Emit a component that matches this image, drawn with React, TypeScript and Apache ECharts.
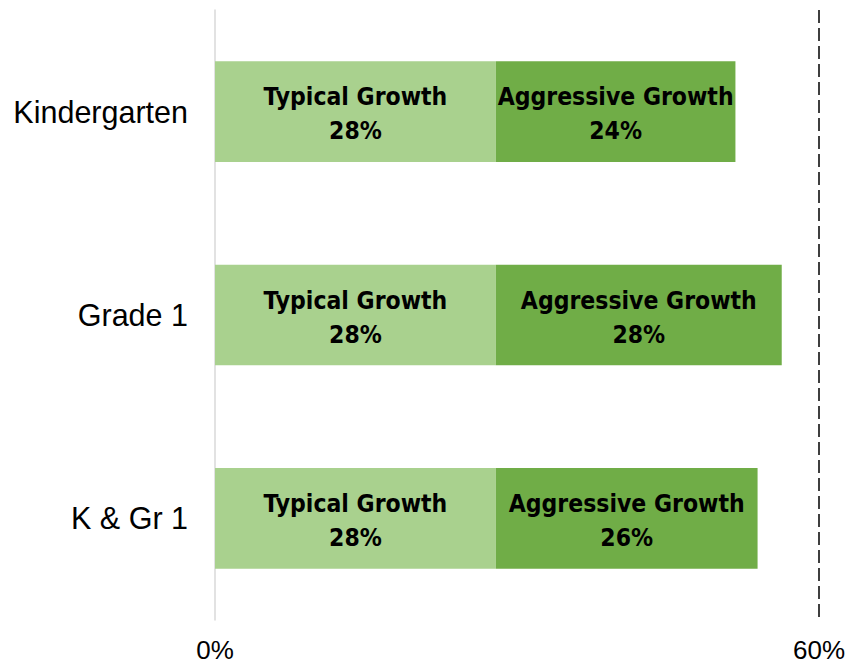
import React, { useEffect, useRef } from "react";
import * as echarts from "echarts";

const categories = ["Kindergarten", "Grade 1", "K & Gr 1"];
const typicalValues = [27.9, 27.9, 27.9];
const aggressiveValues = [23.8, 28.4, 26.0];
const xTicks = [0, 60];

export default function App() {
  const ref = useRef<HTMLDivElement>(null);
  useEffect(() => {
    const chart = echarts.init(ref.current!, null, { renderer: "svg" });
    const labelStyle = {
      show: true,
      position: "inside",
      offset: [0, 2],
      color: "#000",
      fontFamily: "'DejaVu Sans Condensed', 'Liberation Sans', Arial, sans-serif",
      fontWeight: "bold",
      fontSize: 24.5,
      lineHeight: 34,
    };
    chart.setOption({
      animation: false,
      grid: { left: 215, right: 28, top: 10, bottom: 44, containLabel: false },
      xAxis: {
        type: "value",
        min: xTicks[0],
        max: xTicks[1],
        interval: 60,
        axisLine: { show: false },
        axisTick: { show: false },
        splitLine: { show: false },
        axisLabel: {
          formatter: (v: number) => `${v}%`,
          fontSize: 26,
          color: "#000",
          fontFamily: "'Liberation Sans', Arial, sans-serif",
          margin: 17,
        },
      },
      yAxis: {
        type: "category",
        data: categories,
        inverse: true,
        axisLine: { show: true, lineStyle: { color: "#D9D9D9", width: 1.5 } },
        axisTick: { show: false },
        axisLabel: {
          fontSize: 30.5,
          color: "#000",
          fontFamily: "'Liberation Sans', Arial, sans-serif",
          margin: 27,
        },
      },
      series: [
        {
          name: "Typical Growth",
          type: "bar",
          stack: "total",
          data: typicalValues,
          barWidth: "49.5%",
          itemStyle: { color: "#A9D18E" },
          label: { ...labelStyle, formatter: (p: any) => `${p.seriesName}\n${Math.round(p.value)}%` },
          markLine: {
            silent: true,
            symbol: "none",
            label: { show: false },
            lineStyle: { color: "#000", type: [13, 5], width: 1.5 },
            data: [{ xAxis: 60 }],
          },
        },
        {
          name: "Aggressive Growth",
          type: "bar",
          stack: "total",
          data: aggressiveValues,
          barWidth: "49.5%",
          itemStyle: { color: "#70AD47" },
          label: { ...labelStyle, formatter: (p: any) => `${p.seriesName}\n${Math.round(p.value)}%` },
        },
      ],
    });
    return () => chart.dispose();
  }, []);
  return <div ref={ref} style={{ width: 848, height: 664, position: "absolute", left: 0, top: 0 }} />;
}
